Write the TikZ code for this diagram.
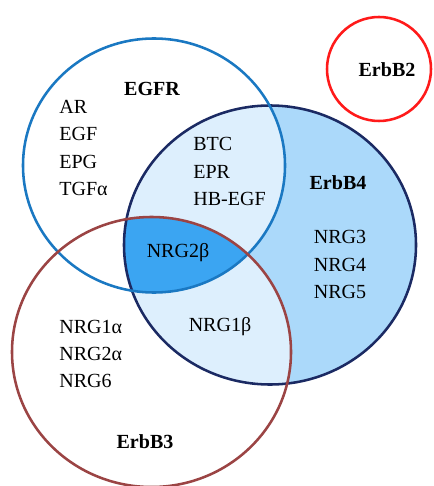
\documentclass[tikz,border=0pt]{standalone}
\usepackage{fontspec}
\setmainfont{Liberation Serif}
\usetikzlibrary{positioning}

\definecolor{egfrblue}{HTML}{1A78C2}
\definecolor{erbbnavy}{HTML}{1B2A63}
\definecolor{erbbbrown}{HTML}{9B4444}
\definecolor{erbbred}{HTML}{FF1A1A}
\definecolor{fourfill}{HTML}{ABD9FA}
\definecolor{pairfill}{HTML}{DDEFFD}
\definecolor{triplefill}{HTML}{3BA5F2}

\newcommand{\egfrset}{(154,165.5) ellipse [x radius=131, y radius=127]}
\newcommand{\fourset}{(270,245) ellipse [x radius=146, y radius=139.5]}
\newcommand{\threeset}{(151.5,352) ellipse [x radius=139.5, y radius=135]}

\tikzset{
	ring/.style={line width=1.45pt},
	lig/.style={inner sep=0pt, font=\fontsize{11.4}{15.6}\selectfont},
	recname/.style={inner sep=0pt, font=\fontsize{11.4}{13.7}\selectfont\bfseries}
}

\begin{document}
\begin{tikzpicture}[x=0.02cm, y=-0.02cm]
		\useasboundingbox (0,0) rectangle (433,486);

		% shading of the ErbB4 parts
		\fill[fourfill] \fourset;
		\begin{scope}
			\clip \fourset;
			\fill[pairfill] \egfrset;
			\fill[pairfill] \threeset;
			\clip \egfrset;
			\fill[triplefill] \threeset;
		\end{scope}

		\draw[ring, erbbnavy] \fourset;
		\draw[ring, egfrblue] \egfrset;
		\draw[ring, erbbbrown] \threeset;
		\draw[ring, erbbred] (379,69) circle [radius=52];

		\node[recname] (EGFR) at (152,89) {EGFR};
		\node[recname] (B4) at (338,183) {ErbB4};
		\node[recname] (B3) at (145,442) {ErbB3};
		\node[recname] (B2) at (387,70) {ErbB2};

		\node[lig, align=left, anchor=west] (L1) at (59,148) {AR\\EGF\\EPG\\TGFα};
		\node[lig, align=left, anchor=west] (L2) at (193,171.5) {BTC\\EPR\\HB-EGF};
		\node[lig, align=center] (L3) at (340,264.5) {NRG3\\NRG4\\NRG5};
		\node[lig, align=left, anchor=west] (L4) at (59,354) {NRG1α\\NRG2α\\NRG6};
		\node[lig] (N2b) at (178,253) {NRG2β};
		\node[lig] (N1b) at (220,327) {NRG1β};
	\end{tikzpicture}
\end{document}
